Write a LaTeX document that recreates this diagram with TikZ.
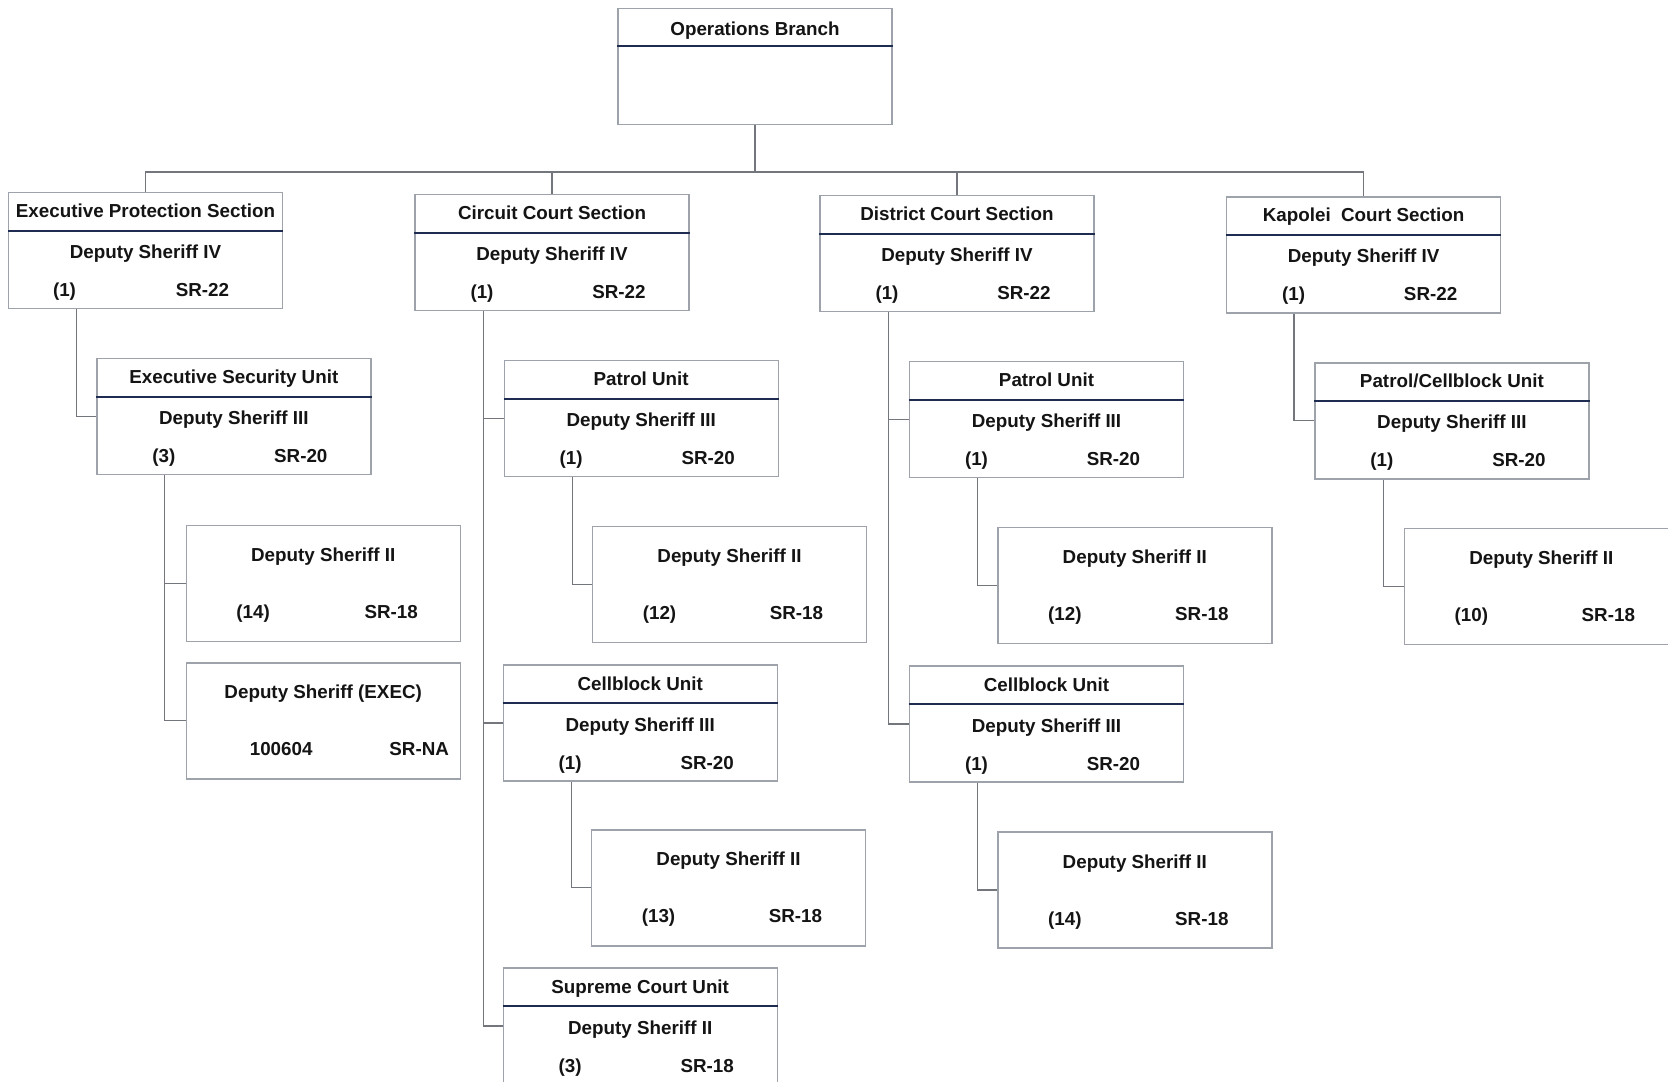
\documentclass[tikz,border=0pt]{standalone}
\usepackage{fontspec}
\setmainfont{Liberation Sans}
\usepackage{tikz}
\usetikzlibrary{calc}
\definecolor{frame}{HTML}{9EA2AA}
\definecolor{wire}{HTML}{74767E}
\definecolor{rule}{HTML}{1E2C52}
\definecolor{ink}{HTML}{141414}

% box with title, rule, role and count/grade row
\newcommand{\orgbox}[8]{%
  \node[box] (#1) at (#2) {};
  \node[lbl] (#1-title) at ($(#1.north)+(0,21)$) {#3};
  \draw[hdr] ($(#1.north west)+(0,39)$) -- ($(#1.north east)+(0,39)$);
  \node[lbl] (#1-role) at ($(#1.north)+(0,62)$) {#4};
  \node[lbl] (#1-count) at ($(#1.north)+(#7,100)$) {#5};
  \node[lbl] (#1-grade) at ($(#1.north)+(#8,100)$) {#6};}
% box with role and count/grade row only
\newcommand{\staffbox}[7]{%
  \node[box] (#1) at (#2) {};
  \node[lbl] (#1-role) at ($(#1.north)+(0,32)$) {#3};
  \node[lbl] (#1-count) at ($(#1.north)+(#6,89)$) {#4};
  \node[lbl] (#1-grade) at ($(#1.north)+(#7,89)$) {#5};}

\begin{document}
\begin{tikzpicture}[x=0.5pt, y=-0.5pt, box/.style={draw=frame,line width=0.7pt,fill=white,minimum width=137pt,minimum height=58pt,inner sep=0pt}, lbl/.style={text=ink,font=\fontsize{9.4}{11}\selectfont\bfseries,inner sep=1pt,text height=7pt,text depth=2.2pt}, hdr/.style={draw=rule,line width=1.1pt}, link/.style={draw=wire,line width=0.6pt}]
\useasboundingbox (0,0) rectangle (1668,1081);
\clip (0,0) rectangle (1668,1081);
\fill[white] (0,0) rectangle (1668,1081);

\node[box] (ops) at (755,66.5) {};
\node[lbl] (ops-title) at ($(ops.north)+(0,23)$) {Operations Branch};
\draw[hdr] ($(ops.north west)+(0,38.5)$) -- ($(ops.north east)+(0,38.5)$);

\orgbox{eps}{145.5,250.5}{Executive Protection Section}{Deputy Sheriff IV}{(1)}{SR-22}{-81}{57}
\orgbox{ccs}{552,252.7}{Circuit Court Section}{Deputy Sheriff IV}{(1)}{SR-22}{-70}{67}
\orgbox{dcs}{957,253.7}{District Court Section}{Deputy Sheriff IV}{(1)}{SR-22}{-70}{67}
\orgbox{kcs}{1363.6,254.8}{Kapolei\ \ Court Section}{Deputy Sheriff IV}{(1)}{SR-22}{-70}{67}

\orgbox{esu}{233.8,416.5}{Executive Security Unit}{Deputy Sheriff III}{(3)}{SR-20}{-70}{67}
\orgbox{ccpatrol}{641.2,418.6}{Patrol Unit}{Deputy Sheriff III}{(1)}{SR-20}{-70}{67}
\orgbox{cccell}{640.2,722.9}{Cellblock Unit}{Deputy Sheriff III}{(1)}{SR-20}{-70}{67}
\orgbox{supreme}{640.2,1026}{Supreme Court Unit}{Deputy Sheriff II}{(3)}{SR-18}{-70}{67}
\orgbox{dcpatrol}{1046.5,419.7}{Patrol Unit}{Deputy Sheriff III}{(1)}{SR-20}{-70}{67}
\orgbox{dccell}{1046.5,724}{Cellblock Unit}{Deputy Sheriff III}{(1)}{SR-20}{-70}{67}
\orgbox{kcpatrol}{1451.9,420.8}{Patrol/Cellblock Unit}{Deputy Sheriff III}{(1)}{SR-20}{-70}{67}

\staffbox{esu-ds}{323.2,583.5}{Deputy Sheriff II}{(14)}{SR-18}{-70}{68}
\staffbox{esu-exec}{323.2,720.8}{Deputy Sheriff (EXEC)}{100604}{SR-NA}{-42}{96}
\staffbox{ccpatrol-ds}{729.5,584.6}{Deputy Sheriff II}{(12)}{SR-18}{-70}{67}
\staffbox{cccell-ds}{728.5,887.8}{Deputy Sheriff II}{(13)}{SR-18}{-70}{67}
\staffbox{dcpatrol-ds}{1134.8,585.6}{Deputy Sheriff II}{(12)}{SR-18}{-70}{67}
\staffbox{dccell-ds}{1134.8,889.9}{Deputy Sheriff II}{(14)}{SR-18}{-70}{67}
\staffbox{kcpatrol-ds}{1541.3,586.7}{Deputy Sheriff II}{(10)}{SR-18}{-70}{67}

% top bus
\coordinate (bus) at (755,172);
\draw[link] (ops.south) -- (bus);
\draw[link] (eps.north) |- (bus) -| (kcs.north);
\draw[link] (ccs.north) -- (ccs.north |- bus);
\draw[link] (dcs.north) -- (dcs.north |- bus);

% section spines
\coordinate (eps-sp) at ($(eps.south west)+(69,0)$);
\coordinate (ccs-sp) at ($(ccs.south west)+(69,0)$);
\coordinate (dcs-sp) at ($(dcs.south west)+(69,0)$);
\coordinate (kcs-sp) at ($(kcs.south west)+(68,0)$);
\draw[link] (eps-sp) |- (esu.west);
\draw[link] (ccs-sp) |- (ccpatrol.west);
\draw[link] (ccs-sp) |- (cccell.west);
\draw[link] (ccs-sp) |- (supreme.west);
\draw[link] (dcs-sp) |- (dcpatrol.west);
\draw[link] (dcs-sp) |- (dccell.west);
\draw[link] (kcs-sp) |- (kcpatrol.west);

% unit spines
\coordinate (esu-sp) at ($(esu.south west)+(68,0)$);
\coordinate (ccpatrol-sp) at ($(ccpatrol.south west)+(69,0)$);
\coordinate (cccell-sp) at ($(cccell.south west)+(69,0)$);
\coordinate (dcpatrol-sp) at ($(dcpatrol.south west)+(69,0)$);
\coordinate (dccell-sp) at ($(dccell.south west)+(69,0)$);
\coordinate (kcpatrol-sp) at ($(kcpatrol.south west)+(69,0)$);
\draw[link] (esu-sp) |- (esu-ds.west);
\draw[link] (esu-sp) |- (esu-exec.west);
\draw[link] (ccpatrol-sp) |- (ccpatrol-ds.west);
\draw[link] (cccell-sp) |- (cccell-ds.west);
\draw[link] (dcpatrol-sp) |- (dcpatrol-ds.west);
\draw[link] (dccell-sp) |- (dccell-ds.west);
\draw[link] (kcpatrol-sp) |- (kcpatrol-ds.west);
\end{tikzpicture}
\end{document}
